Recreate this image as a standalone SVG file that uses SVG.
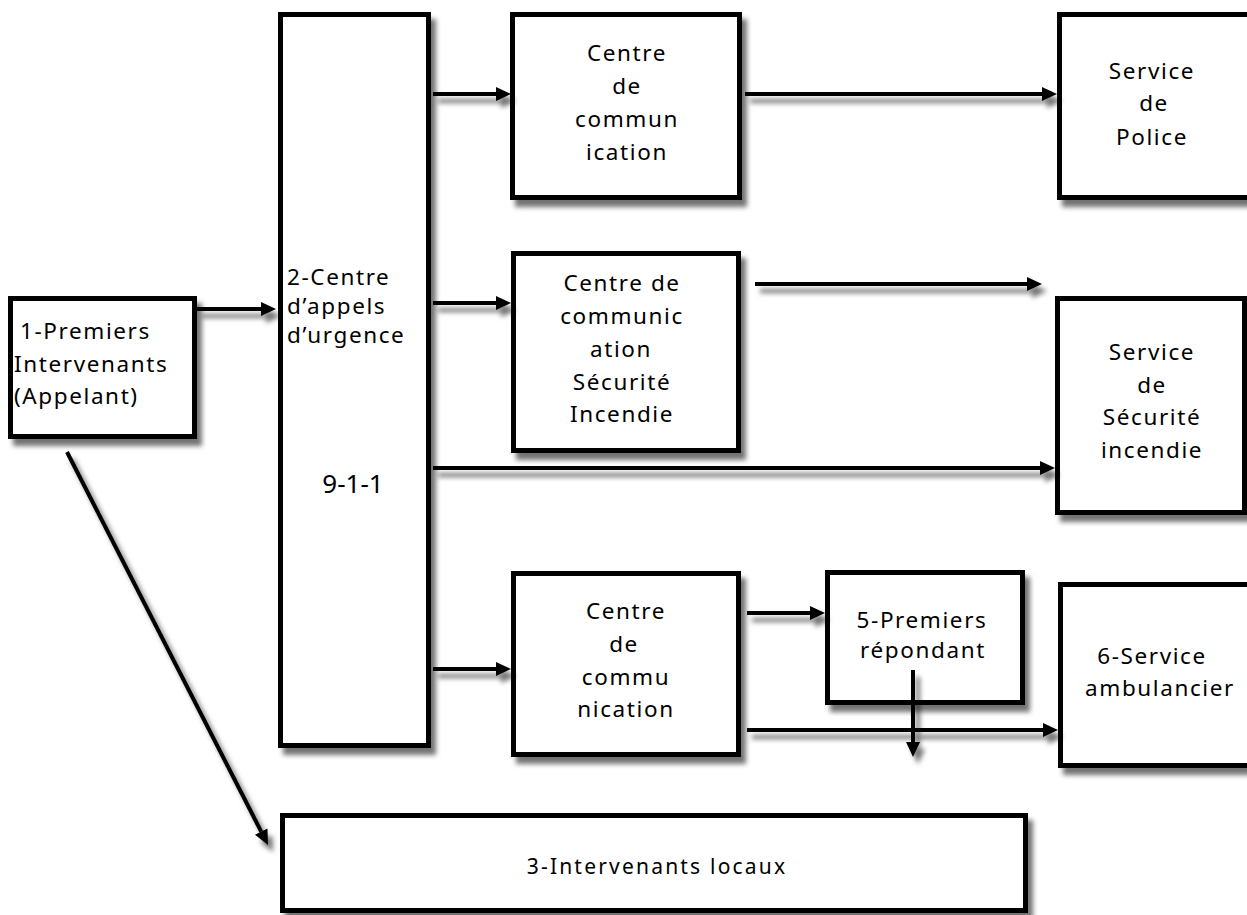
<svg xmlns="http://www.w3.org/2000/svg" width="1247" height="915" viewBox="0 0 1247 915">
<defs>
<filter id="sh" x="-10%" y="-10%" width="130%" height="130%">
<feDropShadow dx="5" dy="7" stdDeviation="2.5" flood-color="#000" flood-opacity="0.55"/>
</filter>
<marker id="ah" markerUnits="userSpaceOnUse" markerWidth="16" markerHeight="16" viewBox="0 -8 16 16" refX="0" refY="0" orient="auto">
<path d="M0,-7 L15,0 L0,7 z" fill="#000"/>
</marker>
</defs>
<style>
.box{fill:#fff;stroke:#000;stroke-width:5;filter:url(#sh)}
.t{font-family:"Noto Sans","DejaVu Sans",sans-serif;font-size:22.5px;letter-spacing:1.6px;fill:#000}
.c{text-anchor:middle}
.cn{fill:none;stroke:#000;stroke-width:4;marker-end:url(#ah)}
</style>
<rect width="1247" height="915" fill="#fff"/>

<g id="n1">
<rect class="box" x="10.5" y="298.5" width="184" height="138"/>
<text class="t" x="20" y="339">1-Premiers</text>
<text class="t" x="14" y="372">Intervenants</text>
<text class="t" x="14" y="404">(Appelant)</text>
</g>

<g id="n2">
<rect class="box" x="280.5" y="14.5" width="148" height="731"/>
<text class="t" x="287" y="285">2-Centre</text>
<text class="t" x="287" y="314">d’appels</text>
<text class="t" x="287" y="343">d’urgence</text>
<text class="t c" x="353" y="493" style="font-size:26px;letter-spacing:0">9-1-1</text>
</g>

<g id="n4a">
<rect class="box" x="512.5" y="14.5" width="227" height="183"/>
<text class="t c" x="627" y="61">Centre</text>
<text class="t c" x="627" y="94">de</text>
<text class="t c" x="627" y="127">commun</text>
<text class="t c" x="627" y="160">ication</text>
</g>

<g id="police">
<rect class="box" x="1059.5" y="14.5" width="220" height="183"/>
<text class="t c" x="1152" y="79">Service</text>
<text class="t c" x="1154" y="111">de</text>
<text class="t c" x="1152" y="145">Police</text>
</g>

<g id="n4b">
<rect class="box" x="513.5" y="253.5" width="225" height="197"/>
<text class="t c" x="622" y="291">Centre de</text>
<text class="t c" x="622" y="324">communic</text>
<text class="t c" x="621" y="357">ation</text>
<text class="t c" x="622" y="390">Sécurité</text>
<text class="t c" x="622" y="422">Incendie</text>
</g>

<g id="incendie">
<rect class="box" x="1057.5" y="298.5" width="187" height="214"/>
<text class="t c" x="1152" y="360">Service</text>
<text class="t c" x="1152" y="393">de</text>
<text class="t c" x="1152" y="425">Sécurité</text>
<text class="t c" x="1152" y="458">incendie</text>
</g>

<g id="n4c">
<rect class="box" x="513.5" y="573.5" width="225" height="181"/>
<text class="t c" x="626" y="619">Centre</text>
<text class="t c" x="624" y="652">de</text>
<text class="t c" x="626" y="685">commu</text>
<text class="t c" x="626" y="717">nication</text>
</g>

<g id="n5">
<rect class="box" x="827.5" y="572.5" width="195" height="130"/>
<text class="t c" x="922" y="628">5-Premiers</text>
<text class="t c" x="923" y="658">répondant</text>
</g>

<g id="n6">
<rect class="box" x="1060.5" y="584.5" width="220" height="181"/>
<text class="t c" x="1152" y="664">6-Service</text>
<text class="t c" x="1160" y="696">ambulancier</text>
</g>

<g id="n3">
<rect class="box" x="282.5" y="815.5" width="743" height="95"/>
<text class="t c" x="657" y="874" style="font-size:21px;letter-spacing:2.2px">3-Intervenants locaux</text>
</g>

<g id="connectors" filter="url(#sh)">
<path class="cn" d="M197,309 H261"/>
<path class="cn" d="M433,94 H496"/>
<path class="cn" d="M745,94 H1042"/>
<path class="cn" d="M433,303 H496"/>
<path class="cn" d="M755,284 H1027"/>
<path class="cn" d="M433,468 H1040"/>
<path class="cn" d="M433,669 H496"/>
<path class="cn" d="M747,613 H810"/>
<path class="cn" d="M747,730 H1043"/>
<path class="cn" d="M913,670 V742"/>
<path class="cn" d="M67,452 L261.2,831.6"/>
</g>
</svg>
